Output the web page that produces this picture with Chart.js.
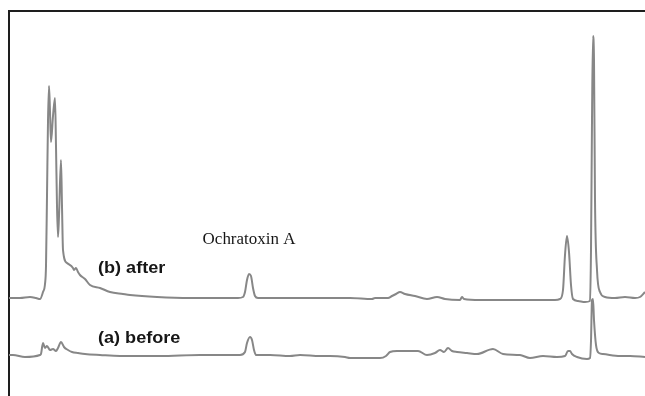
<!DOCTYPE html>
<html>
<head>
<meta charset="utf-8">
<script src="https://cdn.jsdelivr.net/npm/chart.js@4/dist/chart.umd.min.js"></script>
<style>
  html, body { margin: 0; padding: 0; background: #fff; }
  canvas { display: block; }
</style>
</head>
<body>
<canvas id="chrom" width="645" height="396"></canvas>
<script>
// Retention time (min) and detector response for the extract after clean-up (b)
const afterTime = [0, 0.55, 1.05, 1.35, 1.55, 1.7, 1.8, 1.85, 1.9, 1.95, 2.0, 2.05, 2.1, 2.2, 2.3, 2.35, 2.4, 2.45, 2.5, 2.6, 2.65, 2.7, 2.9, 3.2, 3.25, 3.35, 3.45, 3.55, 3.8, 4.05, 4.55, 5.05, 5.7, 6.05, 7.4, 9.05, 10.55, 11.45, 11.7, 11.8, 11.9, 12.0, 12.1, 12.2, 12.3, 12.45, 13.05, 14.55, 16.05, 17.05, 18.15, 18.3, 18.95, 19.15, 19.35, 19.55, 19.8, 20.3, 20.9, 21.4, 21.8, 22.55, 22.65, 22.75, 23.55, 24.55, 25.55, 26.55, 27.3, 27.55, 27.7, 27.8, 27.9, 28.0, 28.1, 28.2, 28.45, 28.8, 29.05, 29.1, 29.15, 29.2, 29.25, 29.3, 29.4, 29.55, 29.8, 30.3, 30.8, 31.3, 31.55, 31.8];
const afterSignal = [19.6, 19.6, 19.8, 19.6, 19.4, 20.8, 22.4, 26, 40, 55, 62, 57, 50.8, 56, 59.6, 50, 38, 31.8, 36, 47.2, 38, 29.2, 26.6, 25.6, 25.2, 25.6, 24.8, 24.2, 23.4, 22.2, 21.6, 20.8, 20.4, 20.2, 19.8, 19.6, 19.6, 19.6, 19.8, 20.8, 23.2, 24.4, 24, 21.6, 20, 19.6, 19.6, 19.6, 19.6, 19.6, 19.4, 19.6, 19.6, 20, 20.4, 20.8, 20.4, 20, 19.4, 19.8, 19.4, 19.2, 19.8, 19.4, 19.2, 19.2, 19.2, 19.2, 19.2, 19.4, 21.2, 28.2, 32, 28.8, 22.2, 19.4, 19, 18.8, 19, 29.2, 55.2, 72, 67.2, 39.2, 25.2, 20.8, 19.8, 19.6, 19.8, 19.6, 19.8, 20.8];

// Retention time (min) and detector response for the crude extract (a)
const beforeTime = [0, 0.2, 0.8, 1.55, 1.6, 1.7, 1.8, 1.9, 2.05, 2.2, 2.35, 2.45, 2.6, 2.75, 2.95, 3.15, 3.45, 3.8, 4.55, 5.55, 7.55, 9.55, 11.05, 11.55, 11.8, 11.9, 12.05, 12.15, 12.25, 12.35, 12.55, 13.05, 14.05, 14.55, 15.55, 16.05, 16.8, 17.05, 18.55, 18.85, 19.05, 19.4, 20.05, 20.45, 20.9, 21.3, 21.55, 21.75, 21.95, 22.15, 22.4, 22.9, 23.4, 24.2, 24.7, 25.55, 26.05, 26.7, 27.4, 27.8, 27.95, 28.05, 28.15, 28.4, 28.9, 29.05, 29.1, 29.15, 29.2, 29.25, 29.35, 29.5, 29.7, 30.55, 31.05, 31.8];
const beforeSignal = [8.2, 8.2, 7.8, 8.2, 8.4, 10.6, 9.6, 10, 9.2, 9.4, 9, 9.6, 10.8, 9.8, 9.2, 8.8, 8.6, 8.4, 8.2, 8, 8, 8.2, 8.2, 8.2, 8.8, 10.6, 11.8, 11.2, 9.2, 8.2, 8.2, 8.2, 8, 8.2, 8, 8, 7.8, 7.6, 7.6, 8, 8.8, 9, 9, 9, 8.2, 8.6, 9.2, 8.8, 9.6, 9, 8.8, 8.6, 8.4, 9.4, 8.4, 8.2, 7.6, 8, 7.8, 8, 9, 9, 8.4, 7.8, 7.4, 7.6, 11, 19.2, 19.4, 15.2, 10.2, 8.6, 8.4, 8, 8, 7.8];

// Axis ranges
const timeRange = [0, 31.8];
const signalRange = [0, 77];

// Text annotations placed in data units (time, signal)
const noteTexts = ['Ochratoxin A', '(b) after', '(a) before'];
const noteTimes = [12.0, 4.45, 4.45];
const noteSignals = [31.2, 25.4, 11.4];
const noteFonts = ['16px "Liberation Serif"', 'bold 16px "Liberation Sans"', 'bold 16px "Liberation Sans"'];
const noteAligns = ['center', 'left', 'left'];
const noteStretch = [1.06, 1.13, 1.13];

const pairs = (xs, ys) => xs.map((x, i) => ({ x, y: ys[i] }));

const notesPlugin = {
  id: 'notes',
  afterDatasetsDraw(chart) {
    const { ctx, scales } = chart;
    ctx.save();
    ctx.fillStyle = '#161616';
    ctx.textBaseline = 'middle';
    noteTexts.forEach((t, i) => {
      const px = scales.x.getPixelForValue(noteTimes[i]);
      const py = scales.y.getPixelForValue(noteSignals[i]);
      ctx.save();
      ctx.font = noteFonts[i];
      ctx.textAlign = noteAligns[i];
      ctx.translate(px, py);
      ctx.scale(noteStretch[i], 1);
      ctx.fillText(t, 0, 0);
      ctx.restore();
    });
    ctx.restore();
  }
};

const traceStyle = {
  borderColor: '#878787',
  borderWidth: 2,
  pointRadius: 0,
  cubicInterpolationMode: 'monotone',
  fill: false
};

new Chart(document.getElementById('chrom'), {
  type: 'line',
  data: {
    datasets: [
      Object.assign({ label: '(b) after', data: pairs(afterTime, afterSignal) }, traceStyle),
      Object.assign({ label: '(a) before', data: pairs(beforeTime, beforeSignal) }, traceStyle)
    ]
  },
  options: {
    responsive: false,
    animation: false,
    devicePixelRatio: 1,
    layout: { padding: { left: 9, top: 11, right: 0, bottom: 0 } },
    plugins: { legend: { display: false }, tooltip: { enabled: false } },
    scales: {
      x: {
        type: 'linear', min: timeRange[0], max: timeRange[1],
        display: false
      },
      xTop: {
        type: 'linear', position: 'top', min: timeRange[0], max: timeRange[1],
        ticks: { display: false },
        grid: { display: false, drawTicks: false },
        border: { display: true, color: '#1e1e1e', width: 2 }
      },
      y: {
        type: 'linear', min: signalRange[0], max: signalRange[1],
        ticks: { display: false },
        grid: { display: false, drawTicks: false },
        border: { display: true, color: '#1e1e1e', width: 2 }
      }
    }
  },
  plugins: [notesPlugin]
});
</script>
</body>
</html>
